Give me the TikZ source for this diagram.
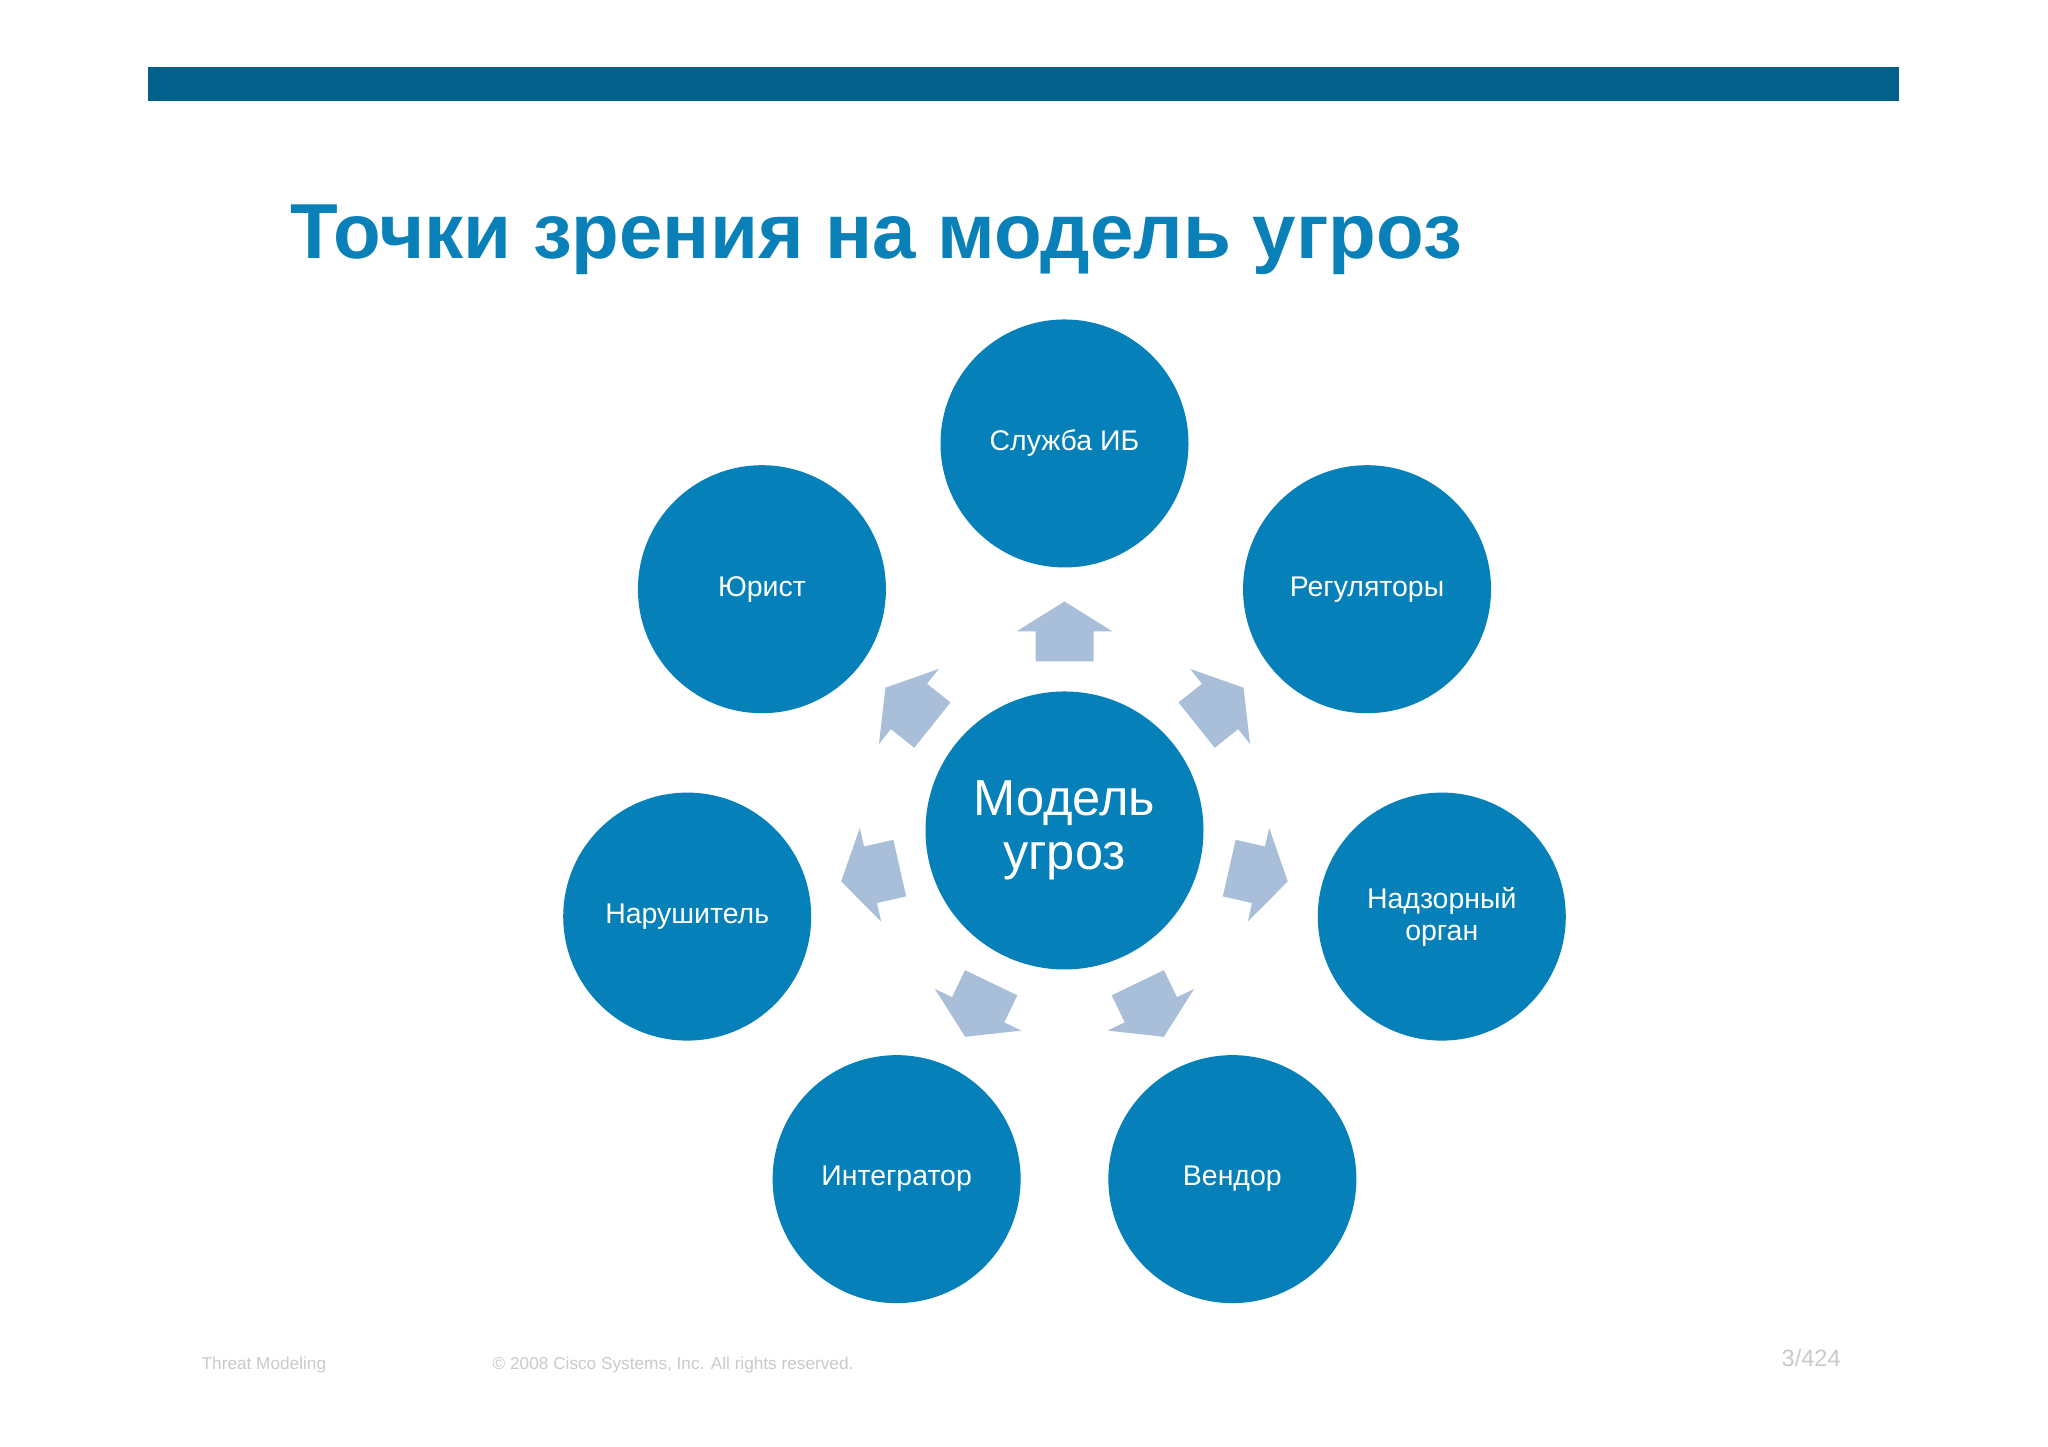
\documentclass[tikz,border=0pt]{standalone}
\usepackage{fontspec}
\setmainfont{Liberation Sans}
\usetikzlibrary{positioning}
\definecolor{barblue}{HTML}{02608A}
\definecolor{circblue}{HTML}{0580B8}
\definecolor{titleblue}{HTML}{0A80B8}
\definecolor{arrowgray}{HTML}{A9BED8}
\definecolor{footgray}{HTML}{CACACA}
\tikzstyle{bubble} = [circle, fill=circblue, text=white, minimum size=2.48cm,
    inner sep=0pt, align=center, font=\fontsize{8.1}{9}\selectfont]
\tikzstyle{hub} = [bubble, minimum size=2.78cm, font=\fontsize{14.4}{15.4}\selectfont]
\tikzstyle{foot} = [text=footgray, inner sep=0pt, anchor=base west,
    font=\fontsize{4.9}{6}\selectfont]
\tikzset{blockarr/.pic={
    \fill[arrowgray] (1.69,-0.29) -- (1.99,-0.29) -- (1.99,-0.48) -- (2.29,0)
      -- (1.99,0.48) -- (1.99,0.29) -- (1.69,0.29) -- cycle;}}

\begin{document}
\begin{tikzpicture}
  \useasboundingbox (0,0) rectangle (20.48,14.47);
  \fill[white] (0,0) rectangle (20.48,14.47);
  \fill[barblue] (1.48,13.46) rectangle (18.99,13.80);
  \node [anchor=base west, inner sep=0pt, text=titleblue,
    font=\fontsize{22.2}{26}\selectfont\bfseries] (title) at (2.90,11.88)
    {Точки зрения на модель угроз};
  % center and the seven views
  \node [hub] (c0) at (10.645,6.165) {Модель\\угроз};
  \node [bubble] (c1) at ([shift={(90:3.87)}]c0) {Служба ИБ};
  \node [bubble] (c2) at ([shift={(38.57:3.87)}]c0) {Регуляторы};
  \node [bubble] (c3) at ([shift={(-12.86:3.87)}]c0) {Надзорный\\орган};
  \node [bubble] (c4) at ([shift={(-64.29:3.87)}]c0) {Вендор};
  \node [bubble] (c5) at ([shift={(-115.71:3.87)}]c0) {Интегратор};
  \node [bubble] (c6) at ([shift={(-167.14:3.87)}]c0) {Нарушитель};
  \node [bubble] (c7) at ([shift={(141.43:3.87)}]c0) {Юрист};
  \pic [rotate=90] at (c0) {blockarr};
  \pic [rotate=38.57] at (c0) {blockarr};
  \pic [rotate=-12.86] at (c0) {blockarr};
  \pic [rotate=-64.29] at (c0) {blockarr};
  \pic [rotate=-115.71] at (c0) {blockarr};
  \pic [rotate=-167.14] at (c0) {blockarr};
  \pic [rotate=141.43] at (c0) {blockarr};
  % footer
  \node [foot] (f1) at (2.01,0.77) {Threat Modeling};
  \node [foot] (f2) at (4.92,0.77) {\textcopyright\ 2008 Cisco Systems, Inc. All rights reserved.};
  \node [foot, font=\fontsize{6.7}{8}\selectfont] (f3) at (17.81,0.80) {3/424};
\end{tikzpicture}
\end{document}
